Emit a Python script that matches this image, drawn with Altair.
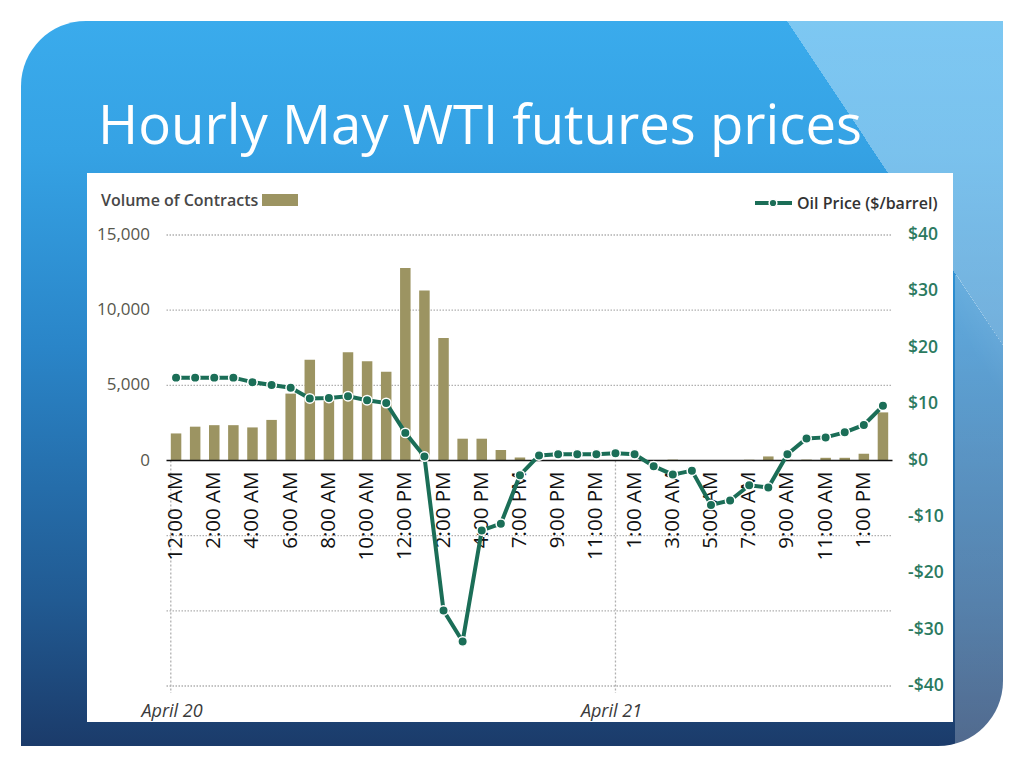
import altair as alt
import pandas as pd

# ---------------- data ----------------
hours = ["12:00 AM", "1:00 AM", "2:00 AM", "3:00 AM", "4:00 AM", "5:00 AM", "6:00 AM",
         "7:00 AM", "8:00 AM", "9:00 AM", "10:00 AM", "11:00 AM", "12:00 PM", "1:00 PM",
         "2:00 PM", "3:00 PM", "4:00 PM", "6:00 PM", "7:00 PM", "8:00 PM", "9:00 PM",
         "10:00 PM", "11:00 PM",
         "12:00 AM", "1:00 AM", "2:00 AM", "3:00 AM", "4:00 AM", "5:00 AM", "6:00 AM",
         "7:00 AM", "8:00 AM", "9:00 AM", "10:00 AM", "11:00 AM", "12:00 PM", "1:00 PM",
         "2:00 PM"]
days = ["Apr 20"] * 23 + ["Apr 21"] * 15

volume = [1800, 2250, 2350, 2350, 2200, 2700, 4450, 6700, 4000, 7200, 6600, 5900,
          12800, 11300, 8150, 1450, 1450, 700, 200, 30, 20, 20, 20,
          20, 20, 20, 60, 0, 0, 0, 50, 270, 50, 60, 180, 180, 450, 3200]

price = [14.7, 14.7, 14.7, 14.7, 13.9, 13.4, 12.9, 11.0, 11.1, 11.4, 10.7, 10.2,
         4.9, 0.7, -26.6, -32.1, -12.4, -11.2, -2.6, 0.9, 1.1, 1.1, 1.1,
         1.3, 1.1, -1.0, -2.5, -1.8, -7.9, -7.1, -4.4, -4.8, 1.1, 3.9, 4.1, 5.0, 6.3, 9.7]

date_labels = ["April 20", "April 21"]
date_days = ["Apr 20", "Apr 21"]
date_hours = ["12:00 AM", "12:00 AM"]

volume_ticks = [0, 5000, 10000, 15000]
grid_values = [-15000, -10000, -5000, 5000, 10000, 15000]
zero_value = [0]
price_ticks = [-40, -30, -20, -10, 0, 10, 20, 30, 40]

title_text = "Hourly May WTI futures prices"
legend_volume = "Volume of Contracts"
legend_price = "Oil Price ($/barrel)"

# ---------------- tables ----------------
keys = [d + "|" + h for d, h in zip(days, hours)]
df = pd.DataFrame({"slot": keys, "volume": volume, "price": price})
xlab_df = pd.DataFrame({"slot": keys[::2], "lab": hours[::2]})
dates_df = pd.DataFrame({"slot": [d + "|" + h for d, h in zip(date_days, date_hours)],
                         "label": date_labels})
grid_df = pd.DataFrame({"g": grid_values})
zero_df = pd.DataFrame({"z": zero_value})
vt_df = pd.DataFrame({"v": volume_ticks})
pt_df = pd.DataFrame({"p": price_ticks})
one = pd.DataFrame({"k": [0]})

W, H = 726, 451
BAR = "#9c9462"
GREEN = "#1b6e57"
FONT = "Open Sans"

xscale = alt.Scale(domain=keys, paddingInner=0.45, paddingOuter=0.225)
vscale = alt.Scale(domain=[-15000, 15000], nice=False, zero=False)
pscale = alt.Scale(domain=[-40, 40], nice=False, zero=False)

# ---------------- slide background ----------------
slide = alt.Chart(one).mark_rect(
    fill=alt.Gradient(
        gradient="linear",
        stops=[alt.GradientStop(offset=0, color="#3aabec"),
               alt.GradientStop(offset=0.18, color="#35a2e4"),
               alt.GradientStop(offset=0.45, color="#2a85c8"),
               alt.GradientStop(offset=0.8, color="#215a92"),
               alt.GradientStop(offset=1, color="#1b3b6a")],
        x1=0, x2=0, y1=0, y2=1),
    cornerRadiusTopLeft=65, cornerRadiusBottomRight=65,
).encode(x=alt.value(-145.5), x2=alt.value(836.5), y=alt.value(-214), y2=alt.value(511))

wedge = alt.Chart(one).mark_rect(
    fill=alt.Gradient(
        gradient="linear",
        stops=[alt.GradientStop(offset=0, color="rgba(255,255,255,0)"),
               alt.GradientStop(offset=0.5, color="rgba(255,255,255,0)"),
               alt.GradientStop(offset=0.5, color="rgba(255,255,255,0.34)"),
               alt.GradientStop(offset=1, color="rgba(255,255,255,0.34)")],
        x1=0.152, y1=0.215, x2=0.422, y2=-0.215),
).encode(x=alt.value(533.5), x2=alt.value(836.5), y=alt.value(-214), y2=alt.value(511))

strip = alt.Chart(one).mark_rect(
    fill=alt.Gradient(
        gradient="linear",
        stops=[alt.GradientStop(offset=0, color="rgba(255,255,255,0)"),
               alt.GradientStop(offset=0.47, color="rgba(255,255,255,0)"),
               alt.GradientStop(offset=0.47, color="rgba(255,255,255,0.28)"),
               alt.GradientStop(offset=1, color="rgba(255,255,255,0.24)")],
        x1=0.5155, y1=-0.0225, x2=0.4845, y2=0.1775),
    cornerRadiusBottomRight=65,
).encode(x=alt.value(788.5), x2=alt.value(836.5), y=alt.value(40), y2=alt.value(511))

panel = alt.Chart(one).mark_rect(fill="white").encode(
    x=alt.value(-79.5), x2=alt.value(786.5), y=alt.value(-62), y2=alt.value(487))

title = alt.Chart(one).mark_text(
    text=title_text, font=FONT, fontSize=54.5, color="white", align="left",
    baseline="alphabetic",
).encode(x=alt.value(-68.5), y=alt.value(-91))

# ---------------- legends ----------------
leg_v_text = alt.Chart(one).mark_text(
    text=legend_volume, font=FONT, fontSize=16, fontWeight=600, color="#474747",
    align="left", baseline="alphabetic",
).encode(x=alt.value(-65.5), y=alt.value(-29))
leg_v_box = alt.Chart(one).mark_rect(fill=BAR).encode(
    x=alt.value(95.5), x2=alt.value(131.5), y=alt.value(-41), y2=alt.value(-29))
leg_p_text = alt.Chart(one).mark_text(
    text=legend_price, font=FONT, fontSize=16, fontWeight=600, color="#333333",
    align="left", baseline="alphabetic",
).encode(x=alt.value(630.5), y=alt.value(-26))
leg_p_line = alt.Chart(one).mark_rule(color=GREEN, strokeWidth=4).encode(
    x=alt.value(588.5), x2=alt.value(625.5), y=alt.value(-32))
leg_p_dot = alt.Chart(one).mark_circle(
    size=60, fill=GREEN, stroke="white", strokeWidth=1.5, opacity=1
).encode(x=alt.value(606.5), y=alt.value(-32))

# ---------------- volume side ----------------
grid = alt.Chart(grid_df).mark_rule(
    color="#b0b0b0", strokeWidth=1.3, strokeDash=[1.5, 1.5]
).encode(y=alt.Y("g:Q", scale=vscale, axis=None), x=alt.value(0), x2=alt.value(W))

date_rule_first = alt.Chart(dates_df).transform_filter(
    alt.datum.label == date_labels[0]
).mark_rule(color="#b0b0b0", strokeWidth=1.3, strokeDash=[2, 2]).encode(
    x=alt.X("slot:N", scale=xscale, axis=None, bandPosition=0),
    y=alt.value(H / 2), y2=alt.value(H + 7))

date_rule_rest = alt.Chart(dates_df).transform_filter(
    alt.datum.label != date_labels[0]
).mark_rule(color="#b0b0b0", strokeWidth=1.3, strokeDash=[2, 2]).encode(
    x=alt.X("slot:N", scale=xscale, axis=None),
    y=alt.value(H / 2), y2=alt.value(H + 7))

date_text = alt.Chart(dates_df).mark_text(
    font=FONT, fontSize=18, fontStyle="italic", color="#3a3a3a", dx=-4, baseline="middle"
).encode(x=alt.X("slot:N", scale=xscale, axis=None), y=alt.value(477), text="label:N")

bars = alt.Chart(df).mark_bar(color=BAR).encode(
    x=alt.X("slot:N", scale=xscale, axis=None),
    y=alt.Y("volume:Q", scale=vscale, axis=None),
)

zero_line = alt.Chart(zero_df).mark_rule(color="#111111", strokeWidth=1.7).encode(
    y=alt.Y("z:Q", scale=vscale, axis=None), x=alt.value(0), x2=alt.value(W))

xlabels = alt.Chart(xlab_df).mark_text(
    angle=270, align="right", baseline="middle", font=FONT, fontSize=20.5, color="#111111"
).encode(x=alt.X("slot:N", scale=xscale, axis=None), y=alt.value(H / 2 + 11), text="lab:N")

vlabels = alt.Chart(vt_df).mark_text(
    align="right", baseline="middle", font=FONT, fontSize=17, color="#57574d"
).encode(y=alt.Y("v:Q", scale=vscale, axis=None), x=alt.value(-16.5),
         text=alt.Text("v:Q", format=","))

left = alt.layer(grid, date_rule_first, date_rule_rest, date_text, bars, zero_line,
                 xlabels, vlabels)

# ---------------- price side ----------------
pline = alt.Chart(df).mark_line(color=GREEN, strokeWidth=4).encode(
    x=alt.X("slot:N", scale=xscale, axis=None),
    y=alt.Y("price:Q", scale=pscale, axis=None),
)
ppts = alt.Chart(df).mark_circle(
    size=90, fill=GREEN, stroke="white", strokeWidth=1.5, opacity=1
).encode(x=alt.X("slot:N", scale=xscale, axis=None),
         y=alt.Y("price:Q", scale=pscale, axis=None))

plabels = alt.Chart(pt_df).transform_calculate(
    lab="datum.p < 0 ? '-$' + abs(datum.p) : '$' + datum.p"
).mark_text(
    align="left", baseline="middle", font=FONT, fontSize=17.5, fontWeight=600, color="#2b7a5f"
).encode(y=alt.Y("p:Q", scale=pscale, axis=None), x=alt.value(W + 15.5), text="lab:N")

right = alt.layer(pline, ppts, plabels)

chart = alt.layer(
    slide, wedge, strip, panel, title,
    leg_v_text, leg_v_box, leg_p_line, leg_p_dot, leg_p_text,
    left, right,
).resolve_scale(y="independent").properties(
    width=W, height=H,
    autosize=alt.AutoSizeParams(type="none"),
    padding={"left": 158.5, "top": 227, "right": 123.5, "bottom": 74},
).configure_view(stroke=None).configure(background="white")

chart.save("out.html", embed_options={"renderer": "svg", "actions": False})
